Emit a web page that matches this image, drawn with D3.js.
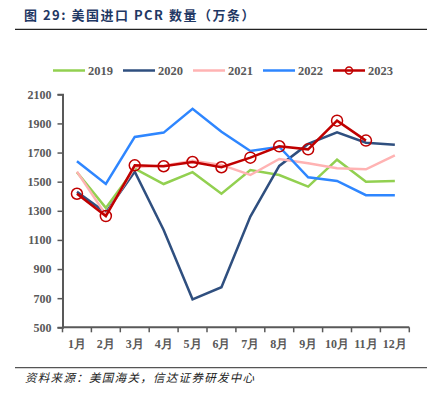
<!DOCTYPE html>
<html>
<head>
<meta charset="utf-8">
<script src="https://cdn.jsdelivr.net/npm/d3@7"></script>
<style>
  body { margin: 0; background: #fff; }
  svg { display: block; }
</style>
</head>
<body>
<svg id="chart" width="439" height="398"></svg>
<script>
// 月份
const months = ["1月", "2月", "3月", "4月", "5月", "6月", "7月", "8月", "9月", "10月", "11月", "12月"];
const years = ["2019", "2020", "2021", "2022", "2023"];
const colors = ["#92d050", "#2f4f7f", "#ffb3b3", "#2e86ff", "#c00000"];

// 美国进口PCR数量（万条）
const v2019 = [1565, 1320, 1590, 1484, 1565, 1417, 1580, 1546, 1466, 1651, 1500, 1505];
const v2020 = [1430, 1287, 1569, 1168, 692, 775, 1260, 1608, 1759, 1839, 1768, 1754];
const v2021 = [1569, 1271, 1600, 1610, 1644, 1615, 1546, 1656, 1626, 1592, 1585, 1681];
const v2022 = [1640, 1484, 1807, 1837, 2000, 1843, 1711, 1740, 1530, 1505, 1407, 1407];
const v2023 = [1417, 1264, 1612, 1606, 1635, 1599, 1665, 1743, 1722, 1919, 1782];

const yTicks = [500, 700, 900, 1100, 1300, 1500, 1700, 1900, 2100];

const seriesList = [v2019, v2020, v2021, v2022, v2023];

const svg = d3.select("#chart");
const plotLeft = 62.5, plotRight = 409.3, plotTop = 94.3, plotBottom = 327.3;

const x = d3.scaleBand().domain(months).range([plotLeft, plotRight]).padding(0);
const y = d3.scaleLinear().domain([500, 2100]).range([plotBottom, plotTop]);

const gray = "#595959";
const serif = "'Liberation Serif', 'Times New Roman', serif";

// 标题
svg.append("text")
    .attr("x", 24).attr("y", 20)
    .attr("font-family", "'Noto Sans CJK SC', sans-serif")
    .attr("font-weight", "bold")
    .attr("font-size", 13)
    .attr("letter-spacing", 1.5)
    .attr("fill", "#1f3864")
    .text("图 29:  美国进口 PCR 数量（万条）");
svg.append("line")
    .attr("x1", 15).attr("x2", 427).attr("y1", 29.3).attr("y2", 29.3)
    .attr("stroke", "#222").attr("stroke-width", 1.2);

// 坐标轴
const yAxis = svg.append("g")
    .attr("transform", `translate(${plotLeft},0)`)
    .call(d3.axisLeft(y).tickValues(yTicks).tickSize(5).tickPadding(6).tickFormat(d3.format("d")));
const xAxis = svg.append("g")
    .attr("transform", `translate(0,${plotBottom})`)
    .call(d3.axisBottom(x).tickSize(0).tickPadding(10));

[yAxis, xAxis].forEach(g => {
    g.select(".domain").attr("stroke", gray).attr("stroke-width", 2);
    g.selectAll(".tick line").attr("stroke", gray).attr("stroke-width", 1.5);
    g.selectAll("text")
        .attr("font-family", serif)
        .attr("font-weight", "bold")
        .attr("font-size", 12)
        .attr("fill", gray);
});
xAxis.select(".domain").attr("d", `M${plotLeft},0H${plotRight}`);
xAxis.selectAll(".tick text").attr("dy", "0.9em");

// x轴刻度在分类边界
const bounds = months.map(m => x(m)).concat([plotRight]);
svg.append("g")
    .selectAll("line")
    .data(bounds)
    .join("line")
    .attr("x1", d => d).attr("x2", d => d)
    .attr("y1", plotBottom).attr("y2", plotBottom + 5)
    .attr("stroke", gray).attr("stroke-width", 1.5);

// 折线
const line = d3.line()
    .x((d, i) => x(months[i]) + x.bandwidth() / 2)
    .y(d => y(d));

seriesList.forEach((s, k) => {
    svg.append("path")
        .datum(s)
        .attr("fill", "none")
        .attr("stroke", colors[k])
        .attr("stroke-width", 2.5)
        .attr("stroke-linejoin", "miter")
        .attr("d", line);
});

svg.append("g")
    .selectAll("circle")
    .data(v2023)
    .join("circle")
    .attr("cx", (d, i) => x(months[i]) + x.bandwidth() / 2)
    .attr("cy", d => y(d))
    .attr("r", 5.5)
    .attr("fill", "none")
    .attr("stroke", colors[4])
    .attr("stroke-width", 1.5);

// 图例
const legend = svg.append("g").attr("transform", "translate(53,70.5)");
years.forEach((yr, k) => {
    const g = legend.append("g").attr("transform", `translate(${k * 70},0)`);
    g.append("line")
        .attr("x1", 0).attr("x2", 32).attr("y1", 0).attr("y2", 0)
        .attr("stroke", colors[k]).attr("stroke-width", 2.5);
    if (k === 4) {
        g.append("circle").attr("cx", 16).attr("cy", 0).attr("r", 3.5)
            .attr("fill", "none").attr("stroke", colors[k]).attr("stroke-width", 1.5);
    }
    g.append("text")
        .attr("x", 35).attr("y", 4.5)
        .attr("font-family", serif)
        .attr("font-weight", "bold")
        .attr("font-size", 12.5)
        .attr("fill", gray)
        .text(yr);
});

// 资料来源
svg.append("line")
    .attr("x1", 15).attr("x2", 427).attr("y1", 367.7).attr("y2", 367.7)
    .attr("stroke", "#555").attr("stroke-width", 1.2);
svg.append("text")
    .attr("x", 25).attr("y", 382)
    .attr("font-family", "'Noto Sans CJK SC', sans-serif")
    .attr("font-style", "italic")
    .attr("font-size", 11.5)
    .attr("letter-spacing", 1.3)
    .attr("fill", "#222")
    .text("资料来源：美国海关，信达证券研发中心");
</script>
</body>
</html>
